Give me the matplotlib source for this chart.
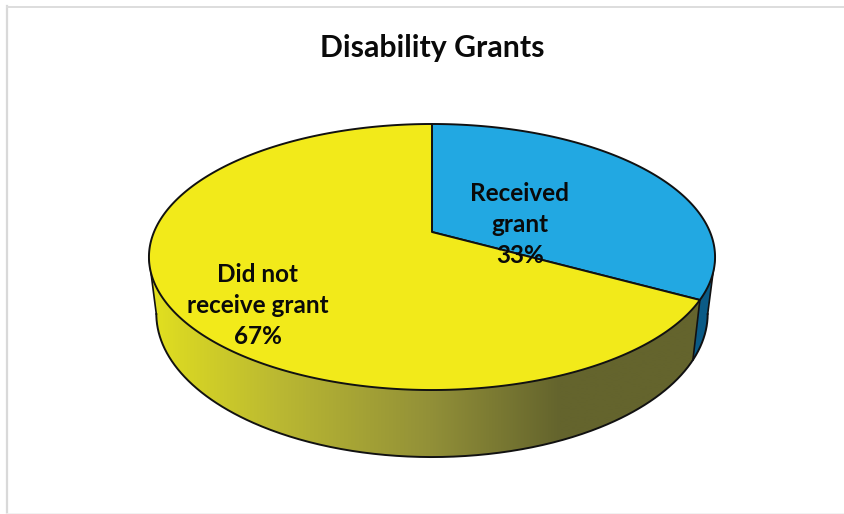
import numpy as np
import matplotlib
matplotlib.use("Agg")
import matplotlib.pyplot as plt
from matplotlib.patches import Polygon

title = "Disability Grants"
categories = ["Received\ngrant", "Did not\nreceive grant"]
shares = [33, 67]

BLUE, YELLOW, BLUE_SIDE = "#22A8E2", "#F2EA1A", "#0B5B86"
CX, CY, D, A, C = 432.0, 232.0, 278.0, -84.7, 0.188


def top(theta):
    """Project a rim angle (clockwise from the far point) onto the screen."""
    x, y = np.sin(theta), np.cos(theta)
    w = 1 + C * y
    return CX + D * x / w, (A * y + CY) / w


def bottom(theta):
    X, Y = top(theta)
    return CX + 0.974 * (X - CX), Y + 54.7 + 0.078 * (Y - CY)


def wall(t_from, t_to):
    ts = np.linspace(t_from, t_to, 200)
    return np.r_[np.c_[top(ts)], np.c_[bottom(ts[::-1])]]


fig = plt.figure(figsize=(8.45, 5.14), dpi=100)
ax = fig.add_axes([0, 0, 1, 1])
ax.set_xlim(0, 845)
ax.set_ylim(514, 0)
ax.axis("off")

ax.plot([7, 7], [6, 514], color="#D9D9D9", lw=1.6)
ax.plot([7, 845], [6.5, 6.5], color="#DDDDDD", lw=1.4)
ax.plot([7, 845], [513.5, 513.5], color="#F0F0F0", lw=1.2)

total = sum(shares)
split = 2 * np.pi * shares[0] / total

# side wall
t0, t1 = np.radians(101), np.radians(259)
EDGE = "#111111"
ax.add_patch(Polygon(wall(t0, split), closed=True, facecolor=BLUE_SIDE, edgecolor="none", zorder=2))

xs = np.arange(140, 721)
anchor_x = [150, 180, 280, 430, 560, 720]
anchor_c = np.array([[228, 226, 30], [216, 214, 36], [186, 184, 50],
                     [146, 144, 56], [100, 100, 45], [100, 100, 45]]) / 255
grad = np.stack([np.interp(xs, anchor_x, anchor_c[:, i]) for i in range(3)], axis=1)[None, :, :]
clip = Polygon(wall(split, t1), closed=True, transform=ax.transData, facecolor="none", edgecolor="none")
ax.add_patch(clip)
im = ax.imshow(grad, extent=(140, 720, 480, 220), aspect="auto", zorder=2, interpolation="bilinear")
im.set_clip_path(clip)
ax.set_xlim(0, 845)
ax.set_ylim(514, 0)

ts = np.linspace(t0, t1, 400)
ax.plot(*bottom(ts), color=EDGE, lw=1.4, zorder=3)
for t in (t0, t1, split):
    ax.plot([top(t)[0], bottom(t)[0]], [top(t)[1], bottom(t)[1]], color=EDGE, lw=1.2, zorder=3)

# top face
start = 0.0
for share, colour in zip(shares, [BLUE, YELLOW]):
    end = start + 2 * np.pi * share / total
    arc = np.linspace(start, end, 300)
    x, y = top(arc)
    ax.fill(np.r_[CX, x], np.r_[CY, y], facecolor=colour, edgecolor=EDGE, lw=1.4, zorder=4, joinstyle="round")
    start = end

font = dict(family="Lato", fontweight="bold", color="#0A0A0A", zorder=5, ha="center", va="center")
ax.text(432, 48, title, fontsize=21.8, **font)
positions = [(520, 224.5), (258, 305.5)]
for (px, py), name, share in zip(positions, categories, shares):
    ax.text(px, py, f"{name}\n{share}%", fontsize=17.5, linespacing=1.43, **font)

fig.savefig("out.png", dpi=100)
